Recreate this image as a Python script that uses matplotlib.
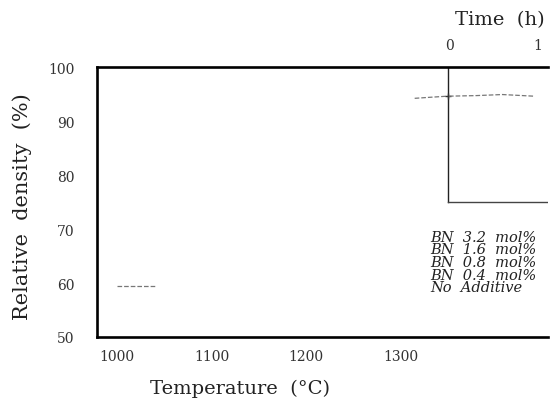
import numpy as np
import matplotlib.pyplot as plt

# faded scan: only fragments of the series are still readable
temp_low = [1000, 1040]
dens_low = [59.5, 59.5]
temp_high = [1315, 1332, 1350]
dens_high = [94.2, 94.4, 94.6]
time_hold = [0.0, 0.3, 0.6, 0.95]
dens_hold = [94.6, 94.7, 94.9, 94.6]

x_ticks = [1000, 1100, 1200, 1300]
y_ticks = [50, 60, 70, 80, 90, 100]
t_ticks = [0, 1]
legend_labels = ['BN  3.2  mol%', 'BN  1.6  mol%', 'BN  0.8  mol%', 'BN  0.4  mol%', 'No  Additive']

plt.rcParams['font.family'] = ['DejaVu Serif']

W, H = 553, 406
fig = plt.figure(figsize=(W / 100, H / 100), dpi=100)

left, right, top, bottom = 97, 548, 68, 338
ax = fig.add_axes([left / W, 1 - bottom / H, (right - left) / W, (bottom - top) / H])

px_per_deg = 0.945
x0 = 1000 - (117 - left) / px_per_deg
x1 = x0 + (right - left) / px_per_deg
ax.set_xlim(x0, x1)
ax.set_ylim(50, 100)

for s in ['left', 'bottom', 'top']:
    ax.spines[s].set_linewidth(1.9)
ax.spines['right'].set_visible(False)

ax.set_xticks(x_ticks)
ax.set_yticks(y_ticks)
ax.tick_params(axis='x', length=0, pad=9, labelsize=10, colors='#333333')
ax.tick_params(axis='y', length=0, pad=16, labelsize=10, colors='#333333')
ax.set_xlabel('Temperature  (\u00b0C)', fontsize=14, labelpad=11, color='#222222',
              x=(240 - left) / (right - left))
ax.set_ylabel('Relative  density  (%)', fontsize=15, labelpad=12, color='#222222',
              y=(bottom - 207) / (bottom - top))

# divider between heating ramp and isothermal hold
ax.plot([1350, 1350], [75, 100], color='#222222', lw=1.0)
ax.plot([1350, x1], [75, 75], color='#444444', lw=1.0)

ax.plot(temp_low, dens_low, ls='--', color='#777777', lw=0.9)
ax.plot(temp_high, dens_high, ls='--', color='#777777', lw=0.9)
ax.plot([1350], [94.6], marker='+', color='#333333', ms=5)

# time axis on top
px_per_h = 89
t0 = (left - 449) / px_per_h
t1 = (right - 449) / px_per_h
axt = ax.twiny()
axt.set_xlim(t0, t1)
axt.set_xticks(t_ticks)
axt.tick_params(axis='x', length=0, pad=11, labelsize=10, colors='#333333')
for s in axt.spines.values():
    s.set_visible(False)
axt.set_xlabel('Time  (h)', fontsize=14, labelpad=10, color='#222222', x=(500 - left) / (right - left))
axt.plot(time_hold, dens_hold, ls='--', color='#777777', lw=0.9)

for i, lab in enumerate(legend_labels):
    fig.text(430 / W, 1 - (238 + i * 12.5) / H, lab, fontsize=10.5, style='italic',
             va='center', ha='left', color='#222222')

fig.savefig('out.png', dpi=100)
